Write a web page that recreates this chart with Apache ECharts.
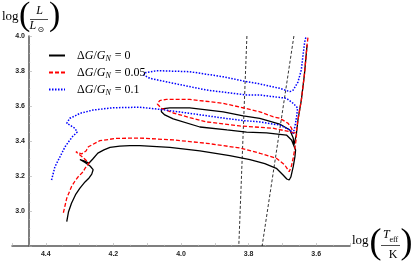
<!DOCTYPE html>
<html><head><meta charset="utf-8">
<script src="https://cdn.jsdelivr.net/npm/echarts@6/dist/echarts.min.js"></script>
<style>html,body{margin:0;padding:0;background:#fff}#c{width:415px;height:263px}</style>
</head><body><div id="c"></div>
<script>
// ---- data ----
const seriesNames = ['dG0', 'dG005', 'dG01'];
const legendValues = ['0', '0.05', '0.1'];
const xLabelValues = [4.4, 4.2, 4.0, 3.8, 3.6];
const yLabelValues = [3.0, 3.2, 3.4, 3.6, 3.8, 4.0];

const trackBlack = [[4.338,2.939],[4.333,2.994],[4.324,3.044],[4.311,3.097],[4.299,3.131],[4.284,3.166],[4.272,3.189],[4.264,3.211],[4.260,3.236],[4.269,3.257],[4.284,3.277],[4.299,3.294],[4.287,3.286],[4.272,3.274],[4.261,3.297],[4.246,3.331],[4.228,3.349],[4.210,3.364],[4.181,3.371],[4.151,3.374],[4.122,3.373],[4.033,3.363],[3.944,3.343],[3.856,3.317],[3.796,3.294],[3.752,3.271],[3.718,3.244],[3.698,3.206],[3.687,3.183],[3.680,3.177],[3.675,3.194],[3.668,3.253],[3.663,3.309],[3.661,3.349],[3.666,3.360],[3.673,3.406],[3.688,3.434],[3.747,3.446],[3.806,3.451],[3.864,3.463],[3.944,3.480],[4.023,3.526],[4.048,3.549],[4.058,3.567],[4.060,3.577],[4.058,3.583],[4.033,3.589],[3.974,3.589],[3.875,3.566],[3.816,3.543],[3.767,3.529],[3.708,3.497],[3.678,3.463],[3.668,3.417],[3.666,3.377],[3.659,3.434],[3.654,3.520],[3.644,3.634],[3.635,3.777],[3.627,3.949]];

const trackRed = [[4.348,2.990],[4.338,3.073],[4.324,3.139],[4.314,3.170],[4.304,3.196],[4.289,3.225],[4.284,3.244],[4.272,3.273],[4.290,3.306],[4.311,3.339],[4.294,3.326],[4.281,3.343],[4.274,3.367],[4.240,3.402],[4.191,3.415],[4.122,3.417],[4.023,3.406],[3.924,3.387],[3.826,3.360],[3.767,3.330],[3.718,3.301],[3.693,3.263],[3.680,3.225],[3.674,3.251],[3.668,3.303],[3.663,3.360],[3.660,3.400],[3.658,3.440],[3.678,3.453],[3.728,3.473],[3.826,3.486],[3.924,3.509],[3.974,3.534],[4.023,3.560],[4.058,3.587],[4.070,3.611],[4.071,3.620],[4.063,3.631],[4.043,3.638],[3.974,3.638],[3.875,3.615],[3.826,3.594],[3.767,3.567],[3.728,3.539],[3.708,3.530],[3.683,3.501],[3.673,3.473],[3.668,3.444],[3.659,3.450],[3.654,3.520],[3.644,3.634],[3.635,3.777],[3.627,3.949],[3.624,3.997]];

const trackBlue = [[4.383,3.177],[4.373,3.253],[4.358,3.310],[4.343,3.367],[4.332,3.397],[4.321,3.425],[4.307,3.451],[4.314,3.473],[4.329,3.491],[4.338,3.501],[4.343,3.511],[4.329,3.530],[4.314,3.543],[4.299,3.558],[4.260,3.577],[4.201,3.590],[4.122,3.593],[4.063,3.581],[3.974,3.558],[3.875,3.531],[3.817,3.517],[3.767,3.509],[3.708,3.491],[3.678,3.463],[3.668,3.444],[3.663,3.482],[3.658,3.539],[3.655,3.589],[3.668,3.615],[3.688,3.644],[3.767,3.663],[3.806,3.663],[3.924,3.691],[4.023,3.730],[4.092,3.758],[4.110,3.777],[4.104,3.791],[4.072,3.802],[3.974,3.796],[3.875,3.767],[3.806,3.739],[3.767,3.726],[3.708,3.701],[3.678,3.682],[3.668,3.691],[3.654,3.737],[3.644,3.806],[3.639,3.891],[3.634,3.966],[3.630,3.997]];

const stripEdgeHot = [[3.805, 4.0], [3.829, 2.8]];
const stripEdgeCool = [[3.666, 4.0], [3.760, 2.8]];

// ---- chart ----
const chart = echarts.init(document.getElementById('c'), null, {renderer: 'canvas'});
const serif = '"Liberation Serif", "DejaVu Serif", serif';
const tickFont = {fontFamily: '"Liberation Sans", Arial, sans-serif', fontSize: 7, fontWeight: 'bold', color: '#222'};

function txt(x, y, text, font, align, valign) {
  return {type: 'text', x: x, y: y, silent: true,
    style: {text: text, font: font, fill: '#000', align: align || 'left', verticalAlign: valign || 'middle'}};
}

const option = {
  animation: false,
  backgroundColor: '#fff',
  grid: {left: 12, right: 65, top: 36, bottom: 17},
  xAxis: {
    type: 'value', min: 3.5, max: 4.5, interval: 0.1, inverse: true,
    axisLine: {show: true, onZero: false, lineStyle: {color: '#555', width: 1.5}},
    axisTick: {show: true, inside: true, length: 3, lineStyle: {color: '#aaa', width: 0.6}},
    minorTick: {show: true, splitNumber: 2, length: 1.5, lineStyle: {color: '#ccc', width: 0.5}},
    axisLabel: Object.assign({customValues: xLabelValues, margin: 5,
      formatter: v => v.toFixed(1)}, tickFont),
    splitLine: {show: false}
  },
  yAxis: {
    type: 'value', min: 2.8, max: 4.0, interval: 0.2, offset: -17,
    axisLine: {show: true, onZero: false, lineStyle: {color: '#555', width: 1.5}},
    axisTick: {show: true, inside: true, length: 3, lineStyle: {color: '#aaa', width: 0.6}},
    minorTick: {show: true, splitNumber: 4, length: 1.5, lineStyle: {color: '#ccc', width: 0.5}},
    axisLabel: Object.assign({customValues: yLabelValues, margin: 4,
      formatter: v => v.toFixed(1)}, tickFont),
    splitLine: {show: false}
  },
  legend: {
    data: seriesNames,
    orient: 'vertical', left: 43, top: 44.5,
    itemWidth: 16, itemHeight: 12, itemGap: 4,
    itemStyle: {opacity: 0},
    formatter: function (name) {
      const i = seriesNames.indexOf(name);
      return '{p|Δ}{i|G}{d|/}{i|G}{s|N}{d| = ' + legendValues[i] + '}';
    },
    textStyle: {
      rich: {
        p: {fontFamily: serif, fontSize: 12, color: '#000', padding: [0, 0, 0, 7]},
        d: {fontFamily: serif, fontSize: 12, color: '#000'},
        i: {fontFamily: serif, fontSize: 12, fontStyle: 'italic', color: '#000'},
        s: {fontFamily: serif, fontSize: 8, fontStyle: 'italic', color: '#000', padding: [6, 1, 0, 0]}
      }
    }
  },
  graphic: [
    txt(2, 17, 'log', '13px ' + serif),
    txt(19, 16, '(', '300 34px ' + serif),
    txt(39.5, 10.5, 'L', 'italic 12px ' + serif, 'center'),
    {type: 'line', silent: true, shape: {x1: 30, y1: 19.5, x2: 48, y2: 19.5}, style: {stroke: '#000', lineWidth: 0.7}},
    txt(29.5, 26, 'L', 'italic 12px ' + serif),
    txt(37.5, 30, '⊙', '8px "DejaVu Sans"'),
    txt(49, 16, ')', '300 34px ' + serif),

    txt(352, 241, 'log', '13px ' + serif),
    txt(369.5, 244, '(', '300 36px ' + serif),
    txt(383, 235, 'T', 'italic 12px ' + serif),
    txt(389.5, 240, 'eff', '8px ' + serif),
    {type: 'line', silent: true, shape: {x1: 381, y1: 245.5, x2: 400, y2: 245.5}, style: {stroke: '#000', lineWidth: 0.7}},
    txt(393, 254.5, 'K', '12px ' + serif, 'center'),
    txt(400.5, 244, ')', '300 36px ' + serif)
  ],
  series: [
    {type: 'line', name: 'stripHot', data: stripEdgeHot, symbol: 'none', silent: true,
      lineStyle: {color: '#000', width: 0.8, type: [3, 2]}},
    {type: 'line', name: 'stripCool', data: stripEdgeCool, symbol: 'none', silent: true,
      lineStyle: {color: '#000', width: 0.8, type: [3, 2]}},
    {type: 'line', name: seriesNames[0], data: trackBlack, symbol: 'none',
      itemStyle: {color: '#000'}, lineStyle: {color: '#000', width: 1.3}},
    {type: 'line', name: seriesNames[1], data: trackRed, symbol: 'none',
      itemStyle: {color: '#ff0000'}, lineStyle: {color: '#ff0000', width: 1.3, type: [4, 2]}},
    {type: 'line', name: seriesNames[2], data: trackBlue, symbol: 'none',
      itemStyle: {color: '#0000ff'}, lineStyle: {color: '#0000ff', width: 1.5, type: [1.5, 1.5]}}
  ]
};
chart.setOption(option);
</script>
</body></html>
